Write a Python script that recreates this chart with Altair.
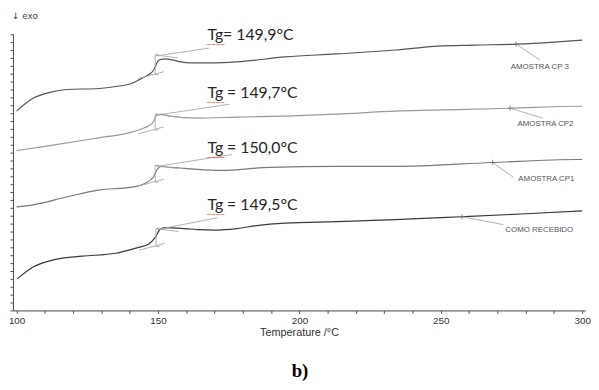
import altair as alt
import pandas as pd

# ---------------- data (heat flow in arbitrary units, exo down) ----------------
t_cp3 = [100, 105.8, 111.7, 117.6, 129, 135, 140.6, 144, 146.6, 148.3, 149, 150, 151, 152.5, 155, 158,
         161.5, 170, 178, 195, 213, 234, 249, 262, 277, 290, 300]
h_cp3 = [20.2, 21.5, 22.1, 22.4, 22.5, 22.7, 23.0, 23.5, 23.9, 24.3, 24.7, 25.3, 25.45, 25.5, 25.4, 25.2,
         25.1, 25.1, 25.2, 25.7, 26.0, 26.4, 26.8, 26.9, 27.0, 27.2, 27.4]

t_cp2 = [100, 111.7, 129, 139.6, 144.1, 146.6, 148.3, 149.3, 151.1, 154.2, 164, 178, 195, 213, 234,
         254.7, 274.5, 298, 300]
h_cp2 = [16.2, 16.7, 17.5, 18.0, 18.4, 18.7, 19.1, 19.7, 19.9, 19.7, 19.5, 19.6, 19.7, 19.9, 20.2,
         20.35, 20.5, 20.7, 20.7]

t_cp1 = [100, 105.8, 117.6, 129, 140.6, 145.5, 148.3, 150, 151.1, 154.6, 159.5, 164, 172, 189.4, 212.8,
         233.7, 268.3, 298, 300]
h_cp1 = [10.5, 10.7, 11.5, 12.2, 12.5, 12.9, 13.5, 14.4, 14.6, 14.5, 14.4, 14.3, 14.2, 14.5, 14.6,
         14.6, 15.0, 15.3, 15.3]

t_como = [100.2, 105.8, 114.1, 123.2, 135, 143.1, 146.6, 149, 150.7, 152.5, 159.5, 164, 170, 177.9,
          184.9, 195, 213, 233.7, 257.5, 280, 300]
h_como = [3.2, 4.4, 5.2, 5.5, 5.8, 6.4, 6.7, 7.4, 8.2, 8.4, 8.3, 8.2, 8.15, 8.3,
          8.6, 8.85, 9.0, 9.2, 9.5, 9.8, 10.1]

series = ["AMOSTRA CP 3", "AMOSTRA CP2", "AMOSTRA CP1", "COMO RECEBIDO"]
series_colors = ["#555555", "#9a9a9a", "#7a7a7a", "#3a3a3a"]

# Tg step construction: step temperature, low and high level
tg_labels = ["Tg= 149,9°C", "Tg = 149,7°C", "Tg = 150,0°C", "Tg = 149,5°C"]
step_t = [149, 149, 149, 149.3]
step_lo = [23.9, 18.3, 13.0, 6.5]
step_hi = [25.9, 19.9, 14.7, 8.3]
tg_text_t = [167.5, 167.5, 167.5, 167.5]
tg_text_h = [27.9, 22.0, 16.5, 10.7]
tg_leader_t = [168.2, 175.2, 176.2, 171.0]
tg_leader_h = [26.6, 20.9, 15.8, 9.4]
squiggle_h = [26.9, 21.0, 15.5, 9.7]

# curve name labels with markers
mark_t = [276.6, 274.5, 268.3, 257.5]
mark_h = [27.0, 20.5, 15.0, 9.5]
lead_end_t = [285.0, 286.0, 275.6, 272.1]
lead_end_h = [25.4, 19.5, 13.5, 8.7]
name_t = [285.0, 287.0, 287.3, 284.8]
name_h = [24.7, 18.9, 13.3, 8.2]

x_ticks = list(range(100, 301, 10))
y_ticks = [round(i * 0.8, 2) for i in range(0, 36)]

# ---------------- tables ----------------
rows = []
for name, ts, hs in zip(series, [t_cp3, t_cp2, t_cp1, t_como], [h_cp3, h_cp2, h_cp1, h_como]):
    for t, h in zip(ts, hs):
        rows.append({"series": name, "T": t, "H": h})
curves = pd.DataFrame(rows)

segs = []
for i in range(4):
    s, lo, hi = step_t[i], step_lo[i], step_hi[i]
    segs += [
        {"t1": s, "h1": lo, "t2": s, "h2": hi},
        {"t1": s, "h1": lo, "t2": s + 1.3, "h2": lo},
        {"t1": s, "h1": hi, "t2": s + 1.3, "h2": hi},
        {"t1": s - 6, "h1": lo - 0.4, "t2": s + 3, "h2": lo + 0.3},
        {"t1": s, "h1": hi, "t2": s + 8, "h2": hi - 0.3},
        {"t1": s + 0.5, "h1": hi - 0.1, "t2": tg_leader_t[i], "h2": tg_leader_h[i]},
        {"t1": mark_t[i], "h1": mark_h[i], "t2": lead_end_t[i], "h2": lead_end_h[i]},
    ]
segs = pd.DataFrame(segs)

tg_df = pd.DataFrame({"T": tg_text_t, "H": tg_text_h, "label": tg_labels, "sq": squiggle_h})
names_df = pd.DataFrame({"T": name_t, "H": name_h, "label": series})
marks_df = pd.DataFrame({"T": mark_t, "H": mark_h})
one = pd.DataFrame({"a": [0]})

xs = alt.Scale(domain=[98.7, 301.0], nice=False, zero=False)
ys = alt.Scale(domain=[0, 28], nice=False, zero=False)

x_axis = alt.Axis(values=x_ticks, labelExpr="datum.value % 50 == 0 ? datum.label : ''",
                  title="Temperature /°C", grid=False, tickSize=3, labelFlush=False,
                  labelFontSize=10, labelFont="Liberation Sans", labelColor="#333",
                  titleFont="Liberation Sans", titleFontSize=11, titleFontWeight="normal",
                  titleColor="#333", titlePadding=1, labelPadding=2,
                  domainColor="#444", tickColor="#555", labelOverlap=False)
y_axis = alt.Axis(values=y_ticks, labels=False, title=None, grid=False, tickSize=3,
                  domainColor="#444", tickColor="#555")


def X(field):
    return alt.X(field, scale=xs, axis=x_axis)


def Y(field):
    return alt.Y(field, scale=ys, axis=y_axis)


lines = alt.Chart(curves).mark_line(strokeWidth=1.2, interpolate="monotone").encode(
    x=X("T:Q"),
    y=Y("H:Q"),
    color=alt.Color("series:N", scale=alt.Scale(domain=series, range=series_colors), legend=None),
    detail="series:N",
)

seg_layer = alt.Chart(segs).mark_rule(color="#a8a8a8", strokeWidth=0.9).encode(
    x=X("t1:Q"), x2="t2:Q",
    y=Y("h1:Q"), y2="h2:Q",
)

plus = alt.Chart(marks_df).mark_point(
    shape="M-1,0L1,0M0,-1L0,1", size=30, color="#666", strokeWidth=1, filled=False
).encode(x=X("T:Q"), y=Y("H:Q"))

tg_text = alt.Chart(tg_df).mark_text(
    align="left", baseline="middle", font="Lato", fontSize=16, color="#262626"
).encode(x=X("T:Q"), y=Y("H:Q"), text="label:N")

squiggle = alt.Chart(tg_df).mark_text(
    align="left", baseline="middle", font="Liberation Sans", fontSize=8, color="#e02828", dx=-1
).encode(x=X("T:Q"), y=Y("sq:Q"), text=alt.value("~~~~"))

name_text = alt.Chart(names_df).mark_text(
    align="center", baseline="middle", font="Liberation Sans", fontSize=8, color="#555555"
).encode(x=X("T:Q"), y=Y("H:Q"), text="label:N")

exo = alt.Chart(one).mark_text(
    align="left", baseline="middle", font="DejaVu Sans", fontSize=9, color="#444"
).encode(x=alt.value(-1), y=alt.value(-18), text=alt.value("↓ exo"))

panel_b = alt.Chart(one).mark_text(
    align="center", baseline="middle", font="Liberation Serif", fontSize=19,
    fontWeight="bold", color="#000"
).encode(x=alt.value(291), y=alt.value(341), text=alt.value("b)"))

chart = alt.layer(lines, seg_layer, plus, tg_text, squiggle, name_text, exo, panel_b).properties(
    width=580, height=280,
    padding={"left": 5, "top": 24, "right": 6, "bottom": 74},
    autosize=alt.AutoSizeParams(type="none"),
    background="white",
).configure_view(stroke=None)

chart.save("out.html", embed_options={"renderer": "svg", "actions": False})
